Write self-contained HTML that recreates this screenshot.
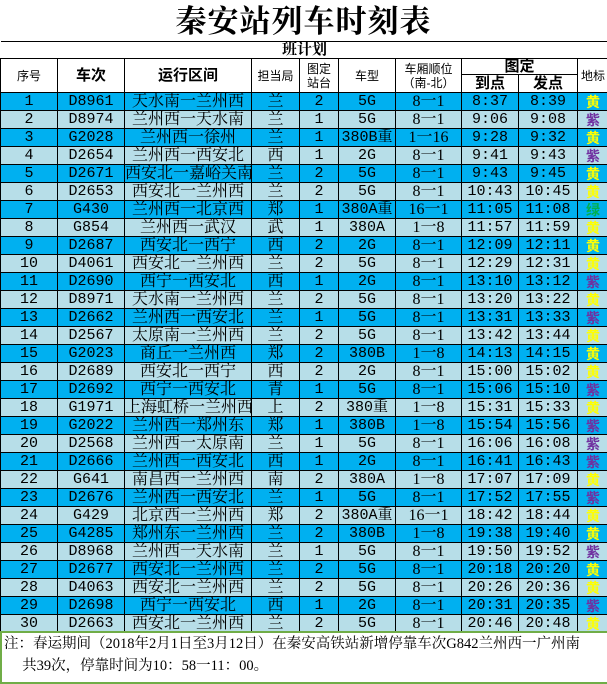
<!DOCTYPE html>
<html><head><meta charset="utf-8"><style>
body{margin:0;width:607px;height:684px;background:#fff;overflow:hidden;font-family:"Liberation Serif","Noto Serif CJK SC",serif;position:relative}
.title{position:absolute;left:0;top:0;width:607px;height:41px;text-align:center;font-size:31px;font-weight:bold;line-height:44px;letter-spacing:1px;font-family:"Liberation Serif","Noto Serif CJK SC",serif}
table{position:absolute;left:0;top:41px;border-collapse:collapse;table-layout:fixed;width:608px}
td{border:1px solid #000;padding:0;text-align:center;white-space:nowrap;overflow:hidden;font-size:15px;line-height:16px;height:17px;font-family:"Liberation Mono","Noto Serif CJK SC",monospace}
tr.a td{background:#00B0F0}
tr.b td{background:#B7DEE8}
.h td{background:#fff;font-family:"Liberation Sans","Noto Sans CJK SC",sans-serif;font-size:12px;line-height:14px}
.h td.bd{font-weight:bold;font-size:15px}
td.r{font-family:"Liberation Serif","Noto Serif CJK SC",serif;font-size:16px}
td.y,td.p,td.g{font-weight:bold;font-family:"Noto Sans CJK SC",sans-serif;font-size:14px;line-height:16px}
td.y{color:#FFFF00}
td.p{color:#7030A0}
td.g{color:#00B050}
.note{position:absolute;left:0;top:631px;width:603px;height:49px;border:2px solid #70AD47;background:#fff;font-family:"Liberation Serif","Noto Serif CJK SC",serif;font-size:14.5px;line-height:22px;padding-left:2px}
</style></head><body>
<div class="title">秦安站列车时刻表</div>
<table>
<colgroup><col style="width:57px"><col style="width:67px"><col style="width:127px"><col style="width:48px"><col style="width:39px"><col style="width:57px"><col style="width:66px"><col style="width:57px"><col style="width:59px"><col style="width:31px"></colgroup>
<tr class="h"><td colspan="10" class="bd" style="border-left:none;border-right:none;height:16px;font-family:'Liberation Serif','Noto Serif CJK SC',serif">班计划</td></tr>
<tr class="h"><td rowspan="2">序号</td><td rowspan="2" class="bd">车次</td><td rowspan="2" class="bd">运行区间</td><td rowspan="2">担当局</td><td rowspan="2">图定<br>站台</td><td rowspan="2">车型</td><td rowspan="2">车厢顺位<br>（南-北）</td><td colspan="2" class="bd" style="height:15px">图定</td><td rowspan="2">地标</td></tr>
<tr class="h"><td class="bd" style="height:15px">到点</td><td class="bd">发点</td></tr>
<tr class="a"><td>1</td><td>D8961</td><td class="r">天水南一兰州西</td><td class="r">兰</td><td>2</td><td>5G</td><td class="r">8一1</td><td>8:37</td><td>8:39</td><td class="y">黄</td></tr>
<tr class="b"><td>2</td><td>D8974</td><td class="r">兰州西一天水南</td><td class="r">兰</td><td>1</td><td>5G</td><td class="r">8一1</td><td>9:06</td><td>9:08</td><td class="p">紫</td></tr>
<tr class="a"><td>3</td><td>G2028</td><td class="r">兰州西一徐州</td><td class="r">兰</td><td>1</td><td>380B重</td><td class="r">1一16</td><td>9:28</td><td>9:32</td><td class="y">黄</td></tr>
<tr class="b"><td>4</td><td>D2654</td><td class="r">兰州西一西安北</td><td class="r">西</td><td>1</td><td>2G</td><td class="r">8一1</td><td>9:41</td><td>9:43</td><td class="p">紫</td></tr>
<tr class="a"><td>5</td><td>D2671</td><td class="r">西安北一嘉峪关南</td><td class="r">兰</td><td>2</td><td>5G</td><td class="r">8一1</td><td>9:43</td><td>9:45</td><td class="y">黄</td></tr>
<tr class="b"><td>6</td><td>D2653</td><td class="r">西安北一兰州西</td><td class="r">兰</td><td>2</td><td>5G</td><td class="r">8一1</td><td>10:43</td><td>10:45</td><td class="y">黄</td></tr>
<tr class="a"><td>7</td><td>G430</td><td class="r">兰州西一北京西</td><td class="r">郑</td><td>1</td><td>380A重</td><td class="r">16一1</td><td>11:05</td><td>11:08</td><td class="g">绿</td></tr>
<tr class="b"><td>8</td><td>G854</td><td class="r">兰州西一武汉</td><td class="r">武</td><td>1</td><td>380A</td><td class="r">1一8</td><td>11:57</td><td>11:59</td><td class="y">黄</td></tr>
<tr class="a"><td>9</td><td>D2687</td><td class="r">西安北一西宁</td><td class="r">西</td><td>2</td><td>2G</td><td class="r">8一1</td><td>12:09</td><td>12:11</td><td class="y">黄</td></tr>
<tr class="b"><td>10</td><td>D4061</td><td class="r">西安北一兰州西</td><td class="r">兰</td><td>2</td><td>5G</td><td class="r">8一1</td><td>12:29</td><td>12:31</td><td class="y">黄</td></tr>
<tr class="a"><td>11</td><td>D2690</td><td class="r">西宁一西安北</td><td class="r">西</td><td>1</td><td>2G</td><td class="r">8一1</td><td>13:10</td><td>13:12</td><td class="p">紫</td></tr>
<tr class="b"><td>12</td><td>D8971</td><td class="r">天水南一兰州西</td><td class="r">兰</td><td>2</td><td>5G</td><td class="r">8一1</td><td>13:20</td><td>13:22</td><td class="y">黄</td></tr>
<tr class="a"><td>13</td><td>D2662</td><td class="r">兰州西一西安北</td><td class="r">兰</td><td>1</td><td>5G</td><td class="r">8一1</td><td>13:31</td><td>13:33</td><td class="p">紫</td></tr>
<tr class="b"><td>14</td><td>D2567</td><td class="r">太原南一兰州西</td><td class="r">兰</td><td>2</td><td>5G</td><td class="r">8一1</td><td>13:42</td><td>13:44</td><td class="y">黄</td></tr>
<tr class="a"><td>15</td><td>G2023</td><td class="r">商丘一兰州西</td><td class="r">郑</td><td>2</td><td>380B</td><td class="r">1一8</td><td>14:13</td><td>14:15</td><td class="y">黄</td></tr>
<tr class="b"><td>16</td><td>D2689</td><td class="r">西安北一西宁</td><td class="r">西</td><td>2</td><td>2G</td><td class="r">8一1</td><td>15:00</td><td>15:02</td><td class="y">黄</td></tr>
<tr class="a"><td>17</td><td>D2692</td><td class="r">西宁一西安北</td><td class="r">青</td><td>1</td><td>5G</td><td class="r">8一1</td><td>15:06</td><td>15:10</td><td class="p">紫</td></tr>
<tr class="b"><td>18</td><td>G1971</td><td class="r">上海虹桥一兰州西</td><td class="r">上</td><td>2</td><td>380重</td><td class="r">1一8</td><td>15:31</td><td>15:33</td><td class="y">黄</td></tr>
<tr class="a"><td>19</td><td>G2022</td><td class="r">兰州西一郑州东</td><td class="r">郑</td><td>1</td><td>380B</td><td class="r">1一8</td><td>15:54</td><td>15:56</td><td class="p">紫</td></tr>
<tr class="b"><td>20</td><td>D2568</td><td class="r">兰州西一太原南</td><td class="r">兰</td><td>1</td><td>5G</td><td class="r">8一1</td><td>16:06</td><td>16:08</td><td class="p">紫</td></tr>
<tr class="a"><td>21</td><td>D2666</td><td class="r">兰州西一西安北</td><td class="r">西</td><td>1</td><td>2G</td><td class="r">8一1</td><td>16:41</td><td>16:43</td><td class="p">紫</td></tr>
<tr class="b"><td>22</td><td>G641</td><td class="r">南昌西一兰州西</td><td class="r">南</td><td>2</td><td>380A</td><td class="r">1一8</td><td>17:07</td><td>17:09</td><td class="y">黄</td></tr>
<tr class="a"><td>23</td><td>D2676</td><td class="r">兰州西一西安北</td><td class="r">兰</td><td>1</td><td>5G</td><td class="r">8一1</td><td>17:52</td><td>17:55</td><td class="p">紫</td></tr>
<tr class="b"><td>24</td><td>G429</td><td class="r">北京西一兰州西</td><td class="r">郑</td><td>2</td><td>380A重</td><td class="r">16一1</td><td>18:42</td><td>18:44</td><td class="y">黄</td></tr>
<tr class="a"><td>25</td><td>G4285</td><td class="r">郑州东一兰州西</td><td class="r">兰</td><td>2</td><td>380B</td><td class="r">1一8</td><td>19:38</td><td>19:40</td><td class="y">黄</td></tr>
<tr class="b"><td>26</td><td>D8968</td><td class="r">兰州西一天水南</td><td class="r">兰</td><td>1</td><td>5G</td><td class="r">8一1</td><td>19:50</td><td>19:52</td><td class="p">紫</td></tr>
<tr class="a"><td>27</td><td>D2677</td><td class="r">西安北一兰州西</td><td class="r">兰</td><td>2</td><td>5G</td><td class="r">8一1</td><td>20:18</td><td>20:20</td><td class="y">黄</td></tr>
<tr class="b"><td>28</td><td>D4063</td><td class="r">西安北一兰州西</td><td class="r">兰</td><td>2</td><td>5G</td><td class="r">8一1</td><td>20:26</td><td>20:36</td><td class="y">黄</td></tr>
<tr class="a"><td>29</td><td>D2698</td><td class="r">西宁一西安北</td><td class="r">西</td><td>1</td><td>2G</td><td class="r">8一1</td><td>20:31</td><td>20:35</td><td class="p">紫</td></tr>
<tr class="b"><td>30</td><td>D2663</td><td class="r">西安北一兰州西</td><td class="r">兰</td><td>2</td><td>5G</td><td class="r">8一1</td><td>20:46</td><td>20:48</td><td class="y">黄</td></tr>
</table>
<div class="note">注：春运期间（2018年2月1日至3月12日）在秦安高铁站新增停靠车次G842兰州西一广州南<br>&nbsp;&nbsp;&nbsp;&nbsp;&nbsp;共39次，停靠时间为10：58一11：00。</div>
</body></html>
